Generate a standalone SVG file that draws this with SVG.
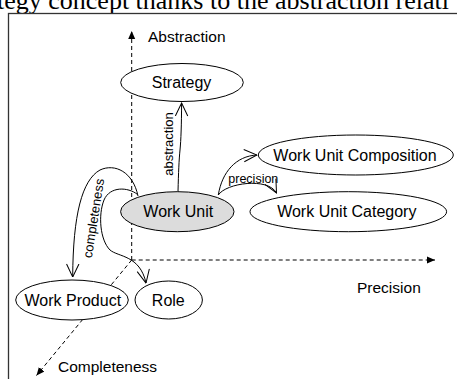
<svg xmlns="http://www.w3.org/2000/svg" width="457" height="379" viewBox="0 0 457 379">
<style>
  .node ellipse { fill: #ffffff; stroke: #000000; stroke-width: 1; }
  .node.main ellipse { fill: #dcdcdc; }
  .lbl { font-family: "Liberation Sans", Arial, sans-serif; font-size: 16px; fill: #000000; text-anchor: middle; }
  .axislbl { font-family: "Liberation Sans", Arial, sans-serif; font-size: 15.5px; fill: #000000; }
  .edgelbl { font-family: "Liberation Sans", Arial, sans-serif; font-size: 13px; fill: #000000; }
  .axis { fill: none; stroke: #000000; stroke-width: 1; stroke-dasharray: 4 3; }
  .edge { fill: none; stroke: #000000; stroke-width: 1; marker-end: url(#open); }
</style>
<defs>
  <marker id="open" viewBox="0 0 14 14" refX="13.5" refY="7" markerWidth="14" markerHeight="14" markerUnits="userSpaceOnUse" orient="auto">
    <path d="M0.5,0.8 L13.5,7 L0.5,13.2" fill="none" stroke="#000000" stroke-width="1"/>
  </marker>
  <marker id="solid" viewBox="0 0 8 8" refX="8" refY="4" markerWidth="8" markerHeight="8" markerUnits="userSpaceOnUse" orient="auto">
    <path d="M0,0.5 L8,4 L0,7.5 Z" fill="#000000"/>
  </marker>
</defs>
<rect width="457" height="379" fill="#ffffff"/>
<text x="-3" y="9" font-family="'Liberation Serif', 'Times New Roman', serif" font-size="26" fill="#000000">tegy concept thanks to the abstraction relati</text>
<rect x="8.5" y="13.5" width="460" height="380" fill="none" stroke="#333333" stroke-width="1.3"/>

<g id="axes">
  <path class="axis" d="M131.7,260 L131.7,31" marker-end="url(#solid)"/>
  <path class="axis" d="M131.7,260 L435,260" marker-end="url(#solid)"/>
  <path class="axis" d="M131.7,260 L36.5,375.5" marker-end="url(#solid)"/>
  <text class="axislbl" x="148" y="42">Abstraction</text>
  <text class="axislbl" x="357" y="293">Precision</text>
  <text class="axislbl" x="58" y="372">Completeness</text>
</g>

<g id="connectors">
  <path class="edge" d="M178,191.7 C178.5,172 179,160 180,150 C181,140 181.5,125 181.6,103"/>
  <text class="edgelbl" transform="translate(173.3,144) rotate(-90)" text-anchor="middle">abstraction</text>
  <path class="edge" d="M218.3,195 C222,172 236,156 257,155"/>
  <path class="edge" d="M218.3,195 C226,183 268,177 276.5,193"/>
  <text class="edgelbl" x="228.3" y="183" font-size="12.5" style="font-size:12.5px">precision</text>
  <path class="edge" d="M138,196 C133,172 115,163 100,170 C82,180 73,215 72.7,277"/>
  <path class="edge" d="M137.3,194.3 C128,187 110,186 104,200 C98,215 100,240 110,250 C118,257 140,255 146,283"/>
  <text class="edgelbl" transform="translate(98,219) rotate(-81)" text-anchor="middle">completeness</text>
</g>

<g id="strategy" class="node">
  <ellipse cx="182" cy="82.5" rx="61.3" ry="19"/>
  <text class="lbl" x="181.5" y="88.3">Strategy</text>
</g>
<g id="work-unit-composition" class="node">
  <ellipse cx="355.8" cy="155" rx="97.5" ry="20"/>
  <text class="lbl" x="355" y="160.5">Work Unit Composition</text>
</g>
<g id="work-unit" class="node main">
  <ellipse cx="177.3" cy="211.7" rx="56.7" ry="20"/>
  <text class="lbl" x="178.3" y="217">Work Unit</text>
</g>
<g id="work-unit-category" class="node">
  <ellipse cx="348.3" cy="211.7" rx="98.3" ry="20"/>
  <text class="lbl" x="346.8" y="217">Work Unit Category</text>
</g>
<g id="work-product" class="node">
  <ellipse cx="72" cy="300" rx="56.3" ry="20"/>
  <text class="lbl" x="72.8" y="305.5">Work Product</text>
</g>
<g id="role" class="node">
  <ellipse cx="168.7" cy="300" rx="33.7" ry="19"/>
  <text class="lbl" x="168.3" y="305.5">Role</text>
</g>
</svg>
